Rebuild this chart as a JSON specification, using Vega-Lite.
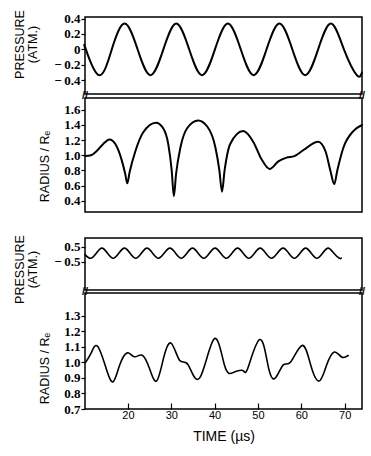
{
  "$schema": "https://vega.github.io/schema/vega-lite/v6.json",
  "padding": {"left": 12, "top": 8, "right": 8, "bottom": 5},
  "background": "white",
  "config": {
    "view": {"stroke": "black", "strokeWidth": 1.5},
    "axis": {
      "domain": false,
      "grid": false,
      "ticks": true,
      "tickColor": "black",
      "tickSize": 4,
      "tickWidth": 1.2,
      "labelPadding": 1,
      "labelOverlap": false,
      "labelColor": "black",
      "labelFont": "Liberation Serif, Times New Roman, serif",
      "labelFontWeight": "bold",
      "labelFontSize": 13,
      "titleColor": "black",
      "titleFont": "Liberation Sans, Arial, sans-serif",
      "titleFontWeight": "normal",
      "titleFontSize": 12.5
    },
    "line": {"color": "black", "strokeWidth": 2, "strokeCap": "round", "strokeJoin": "round"}
  },
  "datasets": {
    "brk": [{"t": 10.1}, {"t": 74.0}],
    "p1": [
      {"t": 10.1, "p": 0.02}, {"t": 10.3, "p": 0.0}, {"t": 13.3, "p": -0.335}, {"t": 16.28, "p": 0.0},
      {"t": 19.25, "p": 0.335}, {"t": 22.23, "p": 0.0}, {"t": 25.2, "p": -0.335}, {"t": 28.18, "p": 0.0},
      {"t": 31.15, "p": 0.335}, {"t": 34.13, "p": 0.0}, {"t": 37.1, "p": -0.335}, {"t": 40.08, "p": 0.0},
      {"t": 43.05, "p": 0.335}, {"t": 46.03, "p": 0.0}, {"t": 49.0, "p": -0.335}, {"t": 51.98, "p": 0.0},
      {"t": 54.95, "p": 0.335}, {"t": 57.93, "p": 0.0}, {"t": 60.9, "p": -0.335}, {"t": 63.88, "p": 0.0},
      {"t": 66.85, "p": 0.335}, {"t": 69.83, "p": 0.0}, {"t": 72.8, "p": -0.335}, {"t": 74.0, "p": -0.3}
    ],
    "r1": [
      {"t": 10.1, "r": 0.99}, {"t": 11.5, "r": 1.0}, {"t": 12.7, "r": 1.05}, {"t": 14.3, "r": 1.15},
      {"t": 15.75, "r": 1.21}, {"t": 17.1, "r": 1.15}, {"t": 18.5, "r": 0.95}, {"t": 19.4, "r": 0.75},
      {"t": 19.85, "r": 0.63}, {"t": 20.4, "r": 0.78}, {"t": 21.7, "r": 1.05}, {"t": 23.5, "r": 1.3},
      {"t": 26.5, "r": 1.43}, {"t": 28.1, "r": 1.36}, {"t": 29.3, "r": 1.15}, {"t": 30.1, "r": 0.8},
      {"t": 30.6, "r": 0.46}, {"t": 31.1, "r": 0.75}, {"t": 32.1, "r": 1.1}, {"t": 33.7, "r": 1.36},
      {"t": 36.2, "r": 1.46}, {"t": 38.3, "r": 1.38}, {"t": 40.2, "r": 1.1}, {"t": 41.1, "r": 0.8},
      {"t": 41.7, "r": 0.52}, {"t": 42.3, "r": 0.8}, {"t": 43.6, "r": 1.15}, {"t": 46.6, "r": 1.32},
      {"t": 48.9, "r": 1.18}, {"t": 50.8, "r": 0.95}, {"t": 52.7, "r": 0.82}, {"t": 54.7, "r": 0.92},
      {"t": 56.6, "r": 0.97}, {"t": 58.4, "r": 0.99}, {"t": 60.5, "r": 1.07}, {"t": 63.9, "r": 1.18},
      {"t": 65.6, "r": 1.05}, {"t": 66.7, "r": 0.8}, {"t": 67.6, "r": 0.62}, {"t": 68.3, "r": 0.8},
      {"t": 69.7, "r": 1.1}, {"t": 72.0, "r": 1.32}, {"t": 74.0, "r": 1.4}
    ],
    "p2": [
      {"t": 10.1, "p": -0.02}, {"t": 11.4, "p": -0.27}, {"t": 12.7, "p": 0.075}, {"t": 14.0, "p": 0.42},
      {"t": 15.3, "p": 0.075}, {"t": 16.6, "p": -0.27}, {"t": 17.9, "p": 0.075}, {"t": 19.2, "p": 0.42},
      {"t": 20.5, "p": 0.075}, {"t": 21.8, "p": -0.27}, {"t": 23.1, "p": 0.075}, {"t": 24.4, "p": 0.42},
      {"t": 25.7, "p": 0.075}, {"t": 27.05, "p": -0.27}, {"t": 28.35, "p": 0.075}, {"t": 29.7, "p": 0.42},
      {"t": 31.0, "p": 0.075}, {"t": 32.3, "p": -0.27}, {"t": 33.6, "p": 0.075}, {"t": 34.9, "p": 0.42},
      {"t": 36.2, "p": 0.075}, {"t": 37.5, "p": -0.27}, {"t": 38.8, "p": 0.075}, {"t": 40.1, "p": 0.42},
      {"t": 41.4, "p": 0.075}, {"t": 42.7, "p": -0.27}, {"t": 44.0, "p": 0.075}, {"t": 45.3, "p": 0.42},
      {"t": 46.6, "p": 0.075}, {"t": 47.9, "p": -0.27}, {"t": 49.2, "p": 0.075}, {"t": 50.5, "p": 0.42},
      {"t": 51.8, "p": 0.075}, {"t": 53.15, "p": -0.27}, {"t": 54.45, "p": 0.075}, {"t": 55.8, "p": 0.42},
      {"t": 57.1, "p": 0.075}, {"t": 58.4, "p": -0.27}, {"t": 59.7, "p": 0.075}, {"t": 61.0, "p": 0.42},
      {"t": 62.3, "p": 0.075}, {"t": 63.6, "p": -0.27}, {"t": 64.9, "p": 0.075}, {"t": 66.2, "p": 0.42},
      {"t": 67.5, "p": 0.075}, {"t": 68.8, "p": -0.27}, {"t": 69.2, "p": -0.25}
    ],
    "r2": [
      {"t": 10.2, "r": 1.0}, {"t": 11.5, "r": 1.06}, {"t": 13.0, "r": 1.105}, {"t": 15.0, "r": 0.96},
      {"t": 16.6, "r": 0.876}, {"t": 18.06, "r": 0.98}, {"t": 19.85, "r": 1.062}, {"t": 21.5, "r": 1.037},
      {"t": 23.3, "r": 1.047}, {"t": 25.0, "r": 0.96}, {"t": 26.6, "r": 0.88}, {"t": 28.15, "r": 1.02},
      {"t": 29.95, "r": 1.125}, {"t": 31.9, "r": 1.015}, {"t": 33.9, "r": 0.985}, {"t": 36.6, "r": 0.902},
      {"t": 39.9, "r": 1.152}, {"t": 42.3, "r": 0.98}, {"t": 44.3, "r": 0.935}, {"t": 46.5, "r": 0.948},
      {"t": 47.7, "r": 0.966}, {"t": 50.4, "r": 1.148}, {"t": 52.3, "r": 0.983}, {"t": 53.9, "r": 0.897},
      {"t": 55.8, "r": 0.983}, {"t": 57.6, "r": 1.005}, {"t": 60.25, "r": 1.11}, {"t": 62.2, "r": 0.98},
      {"t": 64.1, "r": 0.88}, {"t": 65.8, "r": 0.98}, {"t": 67.6, "r": 1.067}, {"t": 69.3, "r": 1.035},
      {"t": 70.8, "r": 1.045}
    ]
  },
  "spacing": 20,
  "vconcat": [
    {
      "spacing": 4,
      "bounds": "flush",
      "vconcat": [
        {
          "width": 277, "height": 77,
          "data": {"name": "p1"},
          "mark": {"type": "line", "interpolate": "natural"},
          "encoding": {
            "x": {"field": "t", "type": "quantitative", "scale": {"domain": [10.1, 74], "nice": false, "zero": false}, "axis": null},
            "y": {"field": "p", "type": "quantitative", "scale": {"domain": [-0.58, 0.42], "nice": false, "zero": false},
              "axis": {"values": [-0.4, -0.2, 0, 0.2, 0.4], "title": ["PRESSURE", "(ATM.)"], "titlePadding": 14, "titleY": 27, "titleLineHeight": 13,
                "labelExpr": "datum.value == 0 ? '0' : (datum.value < 0 ? '−\u2009' : '') + format(abs(datum.value), '.1f')"}}
          }
        },
        {
          "width": 277, "height": 114,
          "resolve": {"axis": {"x": "independent", "y": "independent"}},
          "layer": [
            {
              "data": {"name": "r1"},
              "mark": {"type": "line", "interpolate": "monotone"},
              "encoding": {
                "x": {"field": "t", "type": "quantitative", "scale": {"domain": [10.1, 74], "nice": false, "zero": false}, "axis": null},
                "y": {"field": "r", "type": "quantitative", "scale": {"domain": [0.252, 1.756], "nice": false, "zero": false},
                  "axis": {"values": [0.4, 0.6, 0.8, 1.0, 1.2, 1.4, 1.6], "format": ".1f", "title": "RADIUS / Rₑ", "titlePadding": 12, "titleY": 68}}
              }
            },
            {
              "data": {"name": "brk"},
              "mark": {"type": "text", "text": "//", "dy": -2, "baseline": "middle", "align": "center", "clip": false,
                "color": "black", "fill": "black", "font": "Liberation Sans", "fontSize": 11, "fontWeight": "bold"},
              "encoding": {
                "x": {"field": "t", "type": "quantitative", "axis": null},
                "y": {"datum": 1.756, "type": "quantitative", "axis": null}
              }
            }
          ]
        }
      ]
    },
    {
      "spacing": 3,
      "bounds": "flush",
      "vconcat": [
        {
          "width": 277, "height": 52,
          "data": {"name": "p2"},
          "mark": {"type": "line", "interpolate": "natural", "strokeWidth": 1.6},
          "encoding": {
            "x": {"field": "t", "type": "quantitative", "scale": {"domain": [10.1, 74], "nice": false, "zero": false}, "axis": null},
            "y": {"field": "p", "type": "quantitative", "scale": {"domain": [-2.43, 1.11], "nice": false, "zero": false},
              "axis": {"values": [-0.5, 0.5], "title": ["PRESSURE", "(ATM.)"], "titlePadding": 14, "titleY": 31, "titleLineHeight": 13,
                "labelExpr": "datum.value < 0 ? '−\u2009' + format(abs(datum.value), '.1f') : format(datum.value, '.1f')"}}
          }
        },
        {
          "width": 277, "height": 116,
          "resolve": {"axis": {"x": "independent", "y": "independent"}},
          "layer": [
            {
              "data": {"name": "r2"},
              "mark": {"type": "line", "interpolate": "natural", "strokeWidth": 1.6},
              "encoding": {
                "x": {"field": "t", "type": "quantitative", "scale": {"domain": [10.1, 74], "nice": false, "zero": false},
                  "axis": {"values": [20, 30, 40, 50, 60, 70], "title": "TIME   (µs)", "tickSize": -6, "labelPadding": 6,
                    "labelFont": "Liberation Sans, Arial, sans-serif", "labelFontWeight": "normal", "labelFontSize": 11,
                    "titleFontSize": 14, "titlePadding": 9}},
                "y": {"field": "r", "type": "quantitative", "scale": {"domain": [0.7, 1.448], "nice": false, "zero": false},
                  "axis": {"values": [0.7, 0.8, 0.9, 1.0, 1.1, 1.2, 1.3], "format": ".1f", "title": "RADIUS / Rₑ", "titlePadding": 12, "titleY": 75}}
              }
            },
            {
              "data": {"name": "brk"},
              "mark": {"type": "text", "text": "//", "dy": -1.5, "baseline": "middle", "align": "center", "clip": false,
                "color": "black", "fill": "black", "font": "Liberation Sans", "fontSize": 11, "fontWeight": "bold"},
              "encoding": {
                "x": {"field": "t", "type": "quantitative", "axis": null},
                "y": {"datum": 1.448, "type": "quantitative", "axis": null}
              }
            }
          ]
        }
      ]
    }
  ]
}
